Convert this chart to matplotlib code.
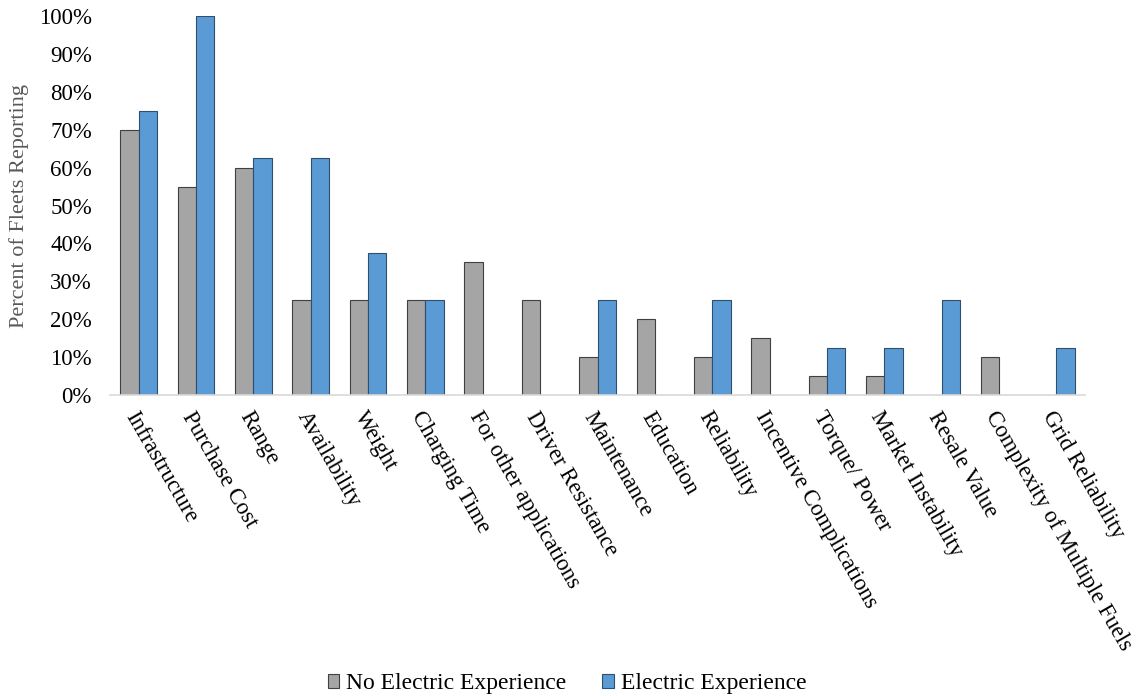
import matplotlib
matplotlib.use("Agg")
import matplotlib.pyplot as plt
import numpy as np

categories = ["Infrastructure", "Purchase Cost", "Range", "Availability", "Weight",
              "Charging Time", "For other applications", "Driver Resistance",
              "Maintenance", "Education", "Reliability", "Incentive Complications",
              "Torque/ Power", "Market Instability", "Resale Value",
              "Complexity of Multiple Fuels", "Grid Reliability"]
no_electric = [70, 55, 60, 25, 25, 25, 35, 25, 10, 20, 10, 15, 5, 5, 0, 10, 0]
electric = [75, 100, 62.5, 62.5, 37.5, 25, 0, 0, 25, 0, 25, 0, 12.5, 12.5, 25, 0, 12.5]
yticks = list(range(0, 101, 10))
ytick_labels = [f"{v}%" for v in yticks]

plt.rcParams['font.family'] = ['Liberation Serif', 'DejaVu Serif']

fig = plt.figure(figsize=(11.41, 6.96), dpi=100)
ax = fig.add_axes([110/1141, 1 - 395/696, (1085-110)/1141, (395-16)/696])

x = np.arange(len(categories))
w = 0.32
ax.bar(x - w/2, no_electric, w, color="#a5a5a5", edgecolor="#404040", linewidth=0.8,
       label="No Electric Experience")
ax.bar(x + w/2, electric, w, color="#5b9bd5", edgecolor="#2f4f6f", linewidth=0.8,
       label="Electric Experience")

ax.set_xlim(-0.5, len(categories) - 0.5)
ax.set_ylim(0, 100)
ax.set_yticks(yticks)
ax.set_yticklabels(ytick_labels, fontsize=16.5)
ax.set_xticks(x)
ax.set_xticklabels(categories, rotation=-60, ha='left', va='top', rotation_mode='anchor', fontsize=16.5)
ax.tick_params(axis='both', length=0)
ax.tick_params(axis='y', pad=13)
ax.tick_params(axis='x', pad=9)
for s in ['top', 'right', 'left']:
    ax.spines[s].set_visible(False)
ax.spines['bottom'].set_color("#d9d9d9")
ax.spines['bottom'].set_linewidth(1.2)

ax.set_ylabel("Percent of Fleets Reporting", fontsize=16, color="#595959", labelpad=7)

fig.legend(loc='lower center', bbox_to_anchor=(0.497, -0.028), ncol=2, frameon=False,
           fontsize=17, handlelength=0.5, handleheight=0.5, handletextpad=0.3,
           columnspacing=1.5)

fig.savefig("out.png", dpi=100)
